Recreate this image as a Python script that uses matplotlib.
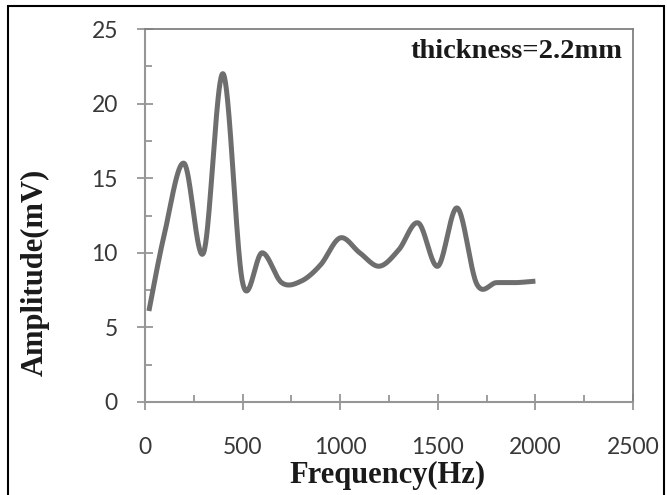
import numpy as np
import matplotlib
matplotlib.use("Agg")
import matplotlib.pyplot as plt
from matplotlib.patches import Rectangle
from matplotlib.ticker import MultipleLocator

# Measured response
freq = [20, 100, 200, 300, 400, 500, 600, 700, 800, 900, 1000,
        1100, 1200, 1300, 1400, 1500, 1600, 1700, 1800, 1900, 2000]
amp = [6.1, 11.3, 16.0, 10.0, 22.0, 8.0, 10.0, 8.0, 8.1, 9.2, 11.0,
       10.0, 9.1, 10.2, 12.0, 9.1, 13.0, 7.9, 8.0, 8.0, 8.1]

x_ticks = [0, 500, 1000, 1500, 2000, 2500]
y_ticks = [0, 5, 10, 15, 20, 25]


def smooth_curve(x, y, n=40):
    # spreadsheet-style smoothed line: cubic Bezier through every point
    p = np.column_stack([x, y]).astype(float)
    pts = [p[0]]
    t = np.linspace(0, 1, n)[1:, None]
    for i in range(len(p) - 1):
        p0 = p[i - 1] if i > 0 else p[i]
        p3 = p[i + 2] if i + 2 < len(p) else p[i + 1]
        c1 = p[i] + (p[i + 1] - p0) / 6
        c2 = p[i + 1] - (p3 - p[i]) / 6
        seg = ((1 - t) ** 3 * p[i] + 3 * (1 - t) ** 2 * t * c1
               + 3 * (1 - t) * t ** 2 * c2 + t ** 3 * p[i + 1])
        pts.extend(seg)
    pts = np.array(pts)
    return pts[:, 0], pts[:, 1]


fig = plt.figure(figsize=(6.67, 4.95), dpi=100)
ax = fig.add_axes([145 / 667, 93 / 495, 488 / 667, 373 / 495])

sx, sy = smooth_curve(freq, amp)
ax.plot(sx, sy, color="#6e6e6e", lw=3.6, solid_capstyle="butt",
        solid_joinstyle="round")

ax.set_xlim(0, 2500)
ax.set_ylim(0, 25)
ax.set_xticks(x_ticks)
ax.set_yticks(y_ticks)
ax.xaxis.set_minor_locator(MultipleLocator(250))
ax.yaxis.set_minor_locator(MultipleLocator(2.5))

grey = "#969696"
for side in ("left", "bottom"):
    ax.spines[side].set_color(grey)
    ax.spines[side].set_linewidth(1.5)
for side in ("top", "right"):
    ax.spines[side].set_color("#808080")
    ax.spines[side].set_linewidth(1.3)

tick_font = dict(family="Lato", size=16.5, color="#383838")
ax.set_xticklabels([str(v) for v in x_ticks], **tick_font)
ax.set_yticklabels([str(v) for v in y_ticks], **tick_font)
ax.tick_params(axis="x", which="major", direction="inout", length=12,
               width=1.3, color=grey, pad=19)
ax.tick_params(axis="x", which="minor", direction="in", length=5,
               width=1.3, color=grey)
ax.tick_params(axis="y", which="major", direction="inout", length=12,
               width=1.3, color=grey, pad=13.5)
ax.tick_params(axis="y", which="minor", direction="in", length=5,
               width=1.3, color=grey)

label_font = dict(family="Liberation Serif", weight="bold", size=22,
                  color="#1a1a1a")
ax.set_xlabel("Frequency(Hz)", **label_font)
ax.set_ylabel("Amplitude(mV)", **label_font)
ax.xaxis.set_label_coords(0.497, -0.158)
ax.yaxis.set_label_coords(-0.195, 0.348)

ax.text(0.979, 0.922, "thickness=2.2mm", transform=ax.transAxes,
        ha="right", va="baseline", family="Liberation Serif",
        weight="bold", size=20.5, color="#1a1a1a")

# black frame around the whole chart
fig.patches.append(Rectangle((8 / 667, -0.02), 656 / 667, 1.0 - 6 / 495 + 0.02,
                             transform=fig.transFigure, fill=False,
                             edgecolor="black", lw=1.5))

fig.savefig("out.png", dpi=100)
